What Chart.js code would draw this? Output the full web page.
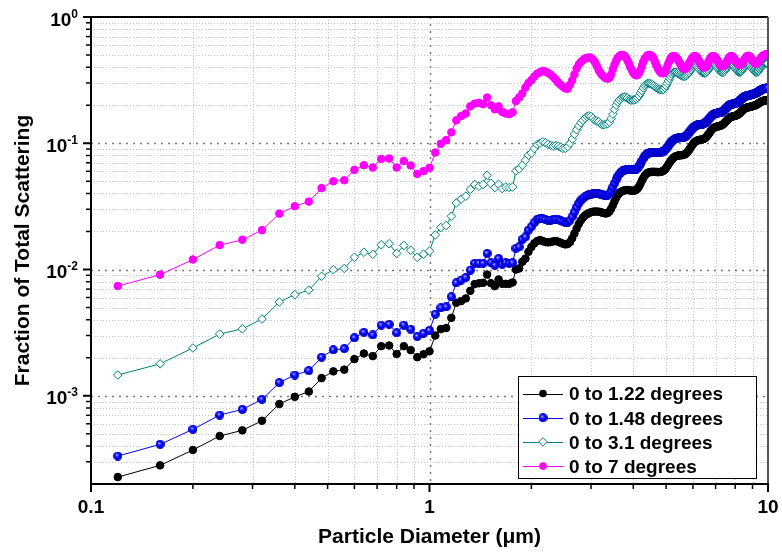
<!DOCTYPE html>
<html lang="en">
<head>
  <meta charset="UTF-8">
  <title>Fraction of Total Scattering</title>
  <script src="https://cdn.jsdelivr.net/npm/chart.js"></script>
  <style>
    html, body { margin: 0; padding: 0; background: #fff; }
    #wrap { width: 782px; height: 554px; }
  </style>
</head>
<body>
  <div id="wrap"><canvas id="chart" width="782" height="554"></canvas></div>

  <script>
    // particle diameters (um), one row = 10 points
    const diameter = [
      0.12,0.16,0.20,0.24,0.28,0.32,0.36,0.40,0.44,0.48,
      0.52,0.56,0.60,0.64,0.68,0.72,0.76,0.80,0.84,0.88,
      0.92,0.96,1.00,1.04,1.08,1.12,1.16,1.20,1.24,1.28,
      1.32,1.36,1.40,1.44,1.48,1.52,1.56,1.60,1.64,1.68,
      1.72,1.76,1.80,1.84,1.88,1.92,1.96,2.00,2.04,2.08,
      2.12,2.16,2.20,2.24,2.28,2.32,2.36,2.40,2.44,2.48,
      2.52,2.56,2.60,2.64,2.68,2.72,2.76,2.80,2.84,2.88,
      2.92,2.96,3.00,3.04,3.08,3.12,3.16,3.20,3.24,3.28,
      3.32,3.36,3.40,3.44,3.48,3.52,3.56,3.60,3.64,3.68,
      3.72,3.76,3.80,3.84,3.88,3.92,3.96,4.00,4.04,4.08,
      4.12,4.16,4.20,4.24,4.28,4.32,4.36,4.40,4.44,4.48,
      4.52,4.56,4.60,4.64,4.68,4.72,4.76,4.80,4.84,4.88,
      4.92,4.96,5.00,5.04,5.08,5.12,5.16,5.20,5.24,5.28,
      5.32,5.36,5.40,5.44,5.48,5.52,5.56,5.60,5.64,5.68,
      5.72,5.76,5.80,5.84,5.88,5.92,5.96,6.00,6.04,6.08,
      6.12,6.16,6.20,6.24,6.28,6.32,6.36,6.40,6.44,6.48,
      6.52,6.56,6.60,6.64,6.68,6.72,6.76,6.80,6.84,6.88,
      6.92,6.96,7.00,7.04,7.08,7.12,7.16,7.20,7.24,7.28,
      7.32,7.36,7.40,7.44,7.48,7.52,7.56,7.60,7.64,7.68,
      7.72,7.76,7.80,7.84,7.88,7.92,7.96,8.00,8.04,8.08,
      8.12,8.16,8.20,8.24,8.28,8.32,8.36,8.40,8.44,8.48,
      8.52,8.56,8.60,8.64,8.68,8.72,8.76,8.80,8.84,8.88,
      8.92,8.96,9.00,9.04,9.08,9.12,9.16,9.20,9.24,9.28,
      9.32,9.36,9.40,9.44,9.48,9.52,9.56,9.60,9.64,9.68,
      9.72,9.76,9.80,9.84,9.88,9.92,9.96,10.00
    ];

    // 0 to 1.22 degrees
    const frac122 = [
      0.000227,0.000281,0.000372,0.000480,0.000532,0.000634,0.000860,0.000980,0.00108,0.00138,
      0.00156,0.00161,0.00195,0.00216,0.00206,0.00247,0.00250,0.00214,0.00247,0.00230,
      0.00202,0.00213,0.00225,0.00300,0.00337,0.00344,0.00414,0.00545,0.00562,0.00590,
      0.00678,0.00766,0.00778,0.00784,0.00913,0.00778,0.00738,0.00834,0.00770,0.00770,
      0.00770,0.00790,0.0100,0.0102,0.0115,0.0122,0.0138,0.0151,0.0161,0.0168,
      0.0171,0.0168,0.0165,0.0164,0.0165,0.0167,0.0168,0.0166,0.0163,0.0160,
      0.0158,0.0159,0.0165,0.0177,0.0193,0.0211,0.0229,0.0245,0.0258,0.0268,
      0.0275,0.0280,0.0284,0.0287,0.0288,0.0288,0.0287,0.0285,0.0282,0.0279,
      0.0278,0.0280,0.0288,0.0303,0.0323,0.0346,0.0370,0.0390,0.0404,0.0413,
      0.0419,0.0423,0.0425,0.0426,0.0425,0.0423,0.0421,0.0420,0.0422,0.0428,
      0.0438,0.0455,0.0478,0.0505,0.0530,0.0552,0.0568,0.0580,0.0587,0.0591,
      0.0593,0.0594,0.0594,0.0593,0.0592,0.0591,0.0591,0.0592,0.0595,0.0600,
      0.0608,0.0620,0.0637,0.0657,0.0680,0.0703,0.0725,0.0745,0.0762,0.0775,
      0.0785,0.0792,0.0797,0.0800,0.0802,0.0803,0.0804,0.0806,0.0810,0.0817,
      0.0827,0.0842,0.0860,0.0882,0.0906,0.0932,0.0958,0.0983,0.1005,0.1023,
      0.1037,0.1047,0.1054,0.1059,0.1063,0.1066,0.1069,0.1073,0.1079,0.1088,
      0.1100,0.1116,0.1136,0.1160,0.1186,0.1213,0.1240,0.1266,0.1289,0.1309,
      0.1325,0.1337,0.1346,0.1352,0.1357,0.1361,0.1365,0.1370,0.1377,0.1386,
      0.1397,0.1411,0.1428,0.1448,0.1470,0.1494,0.1518,0.1542,0.1564,0.1584,
      0.1600,0.1612,0.1621,0.1628,0.1633,0.1638,0.1643,0.1649,0.1656,0.1665,
      0.1676,0.1690,0.1706,0.1725,0.1746,0.1769,0.1793,0.1817,0.1840,0.1861,
      0.1879,0.1894,0.1905,0.1913,0.1919,0.1924,0.1929,0.1934,0.1940,0.1947,
      0.1953,0.1960,0.1967,0.1974,0.1981,0.1988,0.1996,0.2005,0.2016,0.2029,
      0.2044,0.2060,0.2077,0.2094,0.2110,0.2125,0.2138,0.2150,0.2160,0.2168,
      0.2175,0.2180,0.2184,0.2187,0.2190,0.2193,0.2196,0.2200
    ];

    // 0 to 1.48 degrees
    const frac148 = [
      0.000333,0.000412,0.000542,0.000703,0.000780,0.000936,0.00127,0.00146,0.00158,0.00202,
      0.00231,0.00236,0.00288,0.00318,0.00303,0.00362,0.00368,0.00315,0.00363,0.00337,
      0.00295,0.00312,0.00329,0.00443,0.00497,0.00506,0.00608,0.00784,0.00824,0.00865,
      0.00988,0.0112,0.0112,0.0112,0.0134,0.0113,0.0108,0.0122,0.0110,0.0113,
      0.0112,0.0113,0.0147,0.0151,0.0173,0.0181,0.0205,0.0218,0.0235,0.0249,
      0.0253,0.0252,0.0249,0.0246,0.0246,0.0248,0.0249,0.0247,0.0243,0.0239,
      0.0236,0.0237,0.0245,0.0262,0.0285,0.0310,0.0333,0.0352,0.0366,0.0377,
      0.0385,0.0391,0.0396,0.0399,0.0400,0.0400,0.0399,0.0396,0.0392,0.0388,
      0.0386,0.0388,0.0398,0.0418,0.0447,0.0481,0.0515,0.0546,0.0571,0.0590,
      0.0603,0.0611,0.0616,0.0618,0.0618,0.0617,0.0615,0.0614,0.0616,0.0623,
      0.0637,0.0659,0.0688,0.0722,0.0756,0.0785,0.0808,0.0825,0.0836,0.0843,
      0.0847,0.0849,0.0850,0.0850,0.0849,0.0848,0.0848,0.0849,0.0852,0.0858,
      0.0868,0.0883,0.0903,0.0928,0.0955,0.0983,0.1010,0.1035,0.1056,0.1072,
      0.1084,0.1093,0.1099,0.1103,0.1106,0.1108,0.1110,0.1113,0.1118,0.1126,
      0.1138,0.1155,0.1177,0.1203,0.1232,0.1262,0.1292,0.1320,0.1344,0.1363,
      0.1377,0.1388,0.1395,0.1400,0.1404,0.1408,0.1412,0.1417,0.1424,0.1434,
      0.1448,0.1467,0.1490,0.1517,0.1547,0.1578,0.1609,0.1638,0.1663,0.1684,
      0.1700,0.1712,0.1721,0.1728,0.1734,0.1739,0.1744,0.1750,0.1758,0.1768,
      0.1781,0.1797,0.1817,0.1840,0.1866,0.1893,0.1921,0.1948,0.1973,0.1995,
      0.2013,0.2027,0.2037,0.2045,0.2052,0.2058,0.2064,0.2071,0.2079,0.2090,
      0.2103,0.2120,0.2140,0.2163,0.2189,0.2216,0.2244,0.2271,0.2296,0.2318,
      0.2337,0.2353,0.2365,0.2374,0.2381,0.2387,0.2393,0.2399,0.2406,0.2414,
      0.2423,0.2432,0.2441,0.2450,0.2459,0.2468,0.2478,0.2489,0.2502,0.2518,
      0.2536,0.2556,0.2577,0.2598,0.2618,0.2637,0.2654,0.2669,0.2682,0.2693,
      0.2702,0.2710,0.2717,0.2723,0.2729,0.2735,0.2741,0.2747
    ];

    // 0 to 3.1 degrees
    const frac31 = [
      0.00146,0.00179,0.00239,0.00308,0.00339,0.00405,0.00553,0.00632,0.00687,0.00883,
      0.00996,0.0102,0.0125,0.0137,0.0132,0.0157,0.0160,0.0134,0.0155,0.0142,
      0.0125,0.0132,0.0140,0.0188,0.0215,0.0223,0.0264,0.0337,0.0361,0.0381,
      0.0431,0.0471,0.0457,0.0471,0.0558,0.0480,0.0446,0.0474,0.0438,0.0450,
      0.0446,0.0450,0.0604,0.0627,0.0670,0.0734,0.0804,0.0838,0.0908,0.0977,
      0.100,0.103,0.101,0.098,0.096,0.095,0.096,0.095,0.093,0.091,
      0.091,0.094,0.100,0.108,0.118,0.128,0.137,0.145,0.152,0.158,
      0.163,0.165,0.163,0.158,0.152,0.150,0.148,0.143,0.140,0.140,
      0.142,0.143,0.147,0.157,0.170,0.185,0.200,0.212,0.220,0.227,
      0.231,0.233,0.232,0.228,0.223,0.220,0.220,0.220,0.221,0.224,
      0.230,0.238,0.249,0.262,0.275,0.286,0.293,0.297,0.298,0.297,
      0.294,0.290,0.285,0.280,0.275,0.271,0.268,0.266,0.265,0.266,
      0.268,0.275,0.285,0.298,0.312,0.326,0.340,0.352,0.360,0.365,
      0.366,0.364,0.360,0.355,0.350,0.346,0.342,0.340,0.339,0.340,
      0.342,0.347,0.354,0.362,0.372,0.382,0.392,0.400,0.406,0.410,
      0.410,0.407,0.400,0.392,0.384,0.376,0.369,0.364,0.361,0.360,
      0.361,0.364,0.370,0.378,0.388,0.398,0.408,0.416,0.422,0.425,
      0.425,0.422,0.416,0.408,0.399,0.390,0.382,0.375,0.370,0.367,
      0.365,0.365,0.367,0.372,0.379,0.388,0.398,0.408,0.417,0.424,
      0.428,0.430,0.430,0.427,0.421,0.413,0.404,0.395,0.387,0.379,
      0.373,0.368,0.366,0.365,0.366,0.369,0.374,0.381,0.389,0.398,
      0.406,0.414,0.421,0.426,0.429,0.430,0.429,0.426,0.420,0.413,
      0.405,0.397,0.389,0.382,0.376,0.371,0.368,0.366,0.365,0.366,
      0.369,0.373,0.379,0.386,0.393,0.400,0.407,0.413,0.418,0.422,
      0.425,0.427,0.429,0.430,0.430,0.430,0.429,0.428
    ];

    // 0 to 7 degrees
    const frac7 = [
      0.0074,0.0091,0.0120,0.0156,0.0172,0.0205,0.0277,0.0317,0.0345,0.0441,
      0.0500,0.0509,0.0615,0.0670,0.0642,0.0752,0.0757,0.0642,0.0724,0.0666,
      0.0572,0.0601,0.0638,0.0844,0.0990,0.106,0.122,0.152,0.164,0.172,
      0.196,0.206,0.209,0.204,0.230,0.200,0.186,0.196,0.177,0.172,
      0.170,0.176,0.216,0.230,0.248,0.276,0.300,0.316,0.338,0.356,
      0.365,0.374,0.370,0.360,0.350,0.335,0.320,0.302,0.290,0.280,
      0.272,0.270,0.290,0.315,0.350,0.390,0.420,0.440,0.455,0.470,
      0.475,0.478,0.475,0.460,0.440,0.410,0.380,0.360,0.345,0.335,
      0.327,0.325,0.330,0.350,0.385,0.420,0.450,0.475,0.490,0.500,
      0.500,0.495,0.480,0.455,0.430,0.400,0.380,0.360,0.350,0.345,
      0.348,0.360,0.380,0.410,0.440,0.465,0.480,0.495,0.500,0.500,
      0.495,0.485,0.465,0.440,0.415,0.395,0.380,0.368,0.360,0.358,
      0.360,0.370,0.385,0.405,0.430,0.450,0.470,0.483,0.490,0.490,
      0.487,0.478,0.465,0.450,0.435,0.420,0.405,0.395,0.390,0.388,
      0.390,0.397,0.410,0.425,0.440,0.455,0.470,0.480,0.488,0.490,
      0.488,0.480,0.470,0.455,0.440,0.425,0.413,0.405,0.400,0.398,
      0.400,0.405,0.415,0.430,0.445,0.460,0.472,0.482,0.488,0.490,
      0.490,0.485,0.477,0.467,0.455,0.443,0.432,0.422,0.415,0.410,
      0.408,0.408,0.410,0.415,0.423,0.433,0.445,0.457,0.468,0.478,
      0.485,0.490,0.490,0.488,0.483,0.475,0.466,0.456,0.446,0.437,
      0.430,0.424,0.420,0.418,0.418,0.420,0.425,0.432,0.440,0.450,
      0.460,0.470,0.478,0.485,0.490,0.492,0.492,0.490,0.485,0.478,
      0.470,0.462,0.453,0.445,0.438,0.433,0.430,0.428,0.428,0.430,
      0.433,0.438,0.445,0.453,0.462,0.470,0.478,0.485,0.490,0.495,
      0.498,0.500,0.502,0.505,0.507,0.508,0.508,0.508
    ];

    const seriesLabels = ['0 to 1.22 degrees', '0 to 1.48 degrees', '0 to 3.1 degrees', '0 to 7 degrees'];

    // axis ticks
    const xMajor = [0.1, 1, 10];
    const xTickLabels = ['0.1', '1', '10'];
    const yMajor = [1, 0.1, 0.01, 0.001];
    const yExponents = ['0', '-1', '-2', '-3'];
    const minorSteps = [2, 3, 4, 5, 6, 7, 8, 9];
    const xMinor = [0.1, 1].flatMap(d => minorSteps.map(m => m * d));
    const yMinor = [1e-4, 1e-3, 1e-2, 1e-1].flatMap(d => minorSteps.map(m => m * d)).filter(v => v > 2.01e-4);

    const FONT = '"Liberation Sans", Arial, sans-serif';

    // shaded ball marker for the blue series
    function makeBall(r) {
      const c = document.createElement('canvas');
      c.width = c.height = r * 2;
      const g = c.getContext('2d');
      const grad = g.createRadialGradient(r * 0.75, r * 0.7, 0.1, r, r, r);
      grad.addColorStop(0, '#e8e8ff');
      grad.addColorStop(0.22, '#5050ff');
      grad.addColorStop(0.55, '#0000ff');
      grad.addColorStop(1, '#0000b4');
      g.fillStyle = grad;
      g.beginPath();
      g.arc(r, r, r, 0, Math.PI * 2);
      g.fill();
      return c;
    }
    const ball = makeBall(4.5);

    const styles = [
      { color: '#000000', style: 'circle', radius: 3.8, fill: '#000000' },
      { color: '#0000ff', style: ball, radius: 4.5, fill: '#0000ff' },
      { color: '#008080', style: 'rectRot', radius: 4.3, fill: '#ffffff' },
      { color: '#ff00ff', style: 'circle', radius: 3.8, fill: '#ff00ff' }
    ];

    const values = [frac122, frac148, frac31, frac7];

    const datasets = values.map((vals, i) => ({
      label: seriesLabels[i],
      data: diameter.map((d, k) => ({ x: d, y: vals[k] })),
      borderColor: styles[i].color,
      borderWidth: 1,
      pointStyle: styles[i].style,
      pointRadius: styles[i].radius,
      pointBackgroundColor: styles[i].fill,
      pointBorderColor: styles[i].color,
      pointBorderWidth: 1,
      order: 3 - i
    }));

    function drawMarker(ctx, s, x, y) {
      ctx.save();
      if (typeof s.style !== 'string') {
        ctx.drawImage(s.style, x - s.style.width / 2, y - s.style.height / 2);
      } else if (s.style === 'rectRot') {
        ctx.beginPath();
        ctx.moveTo(x, y - s.radius);
        ctx.lineTo(x + s.radius, y);
        ctx.lineTo(x, y + s.radius);
        ctx.lineTo(x - s.radius, y);
        ctx.closePath();
        ctx.fillStyle = s.fill; ctx.fill();
        ctx.strokeStyle = s.color; ctx.lineWidth = 1; ctx.stroke();
      } else {
        ctx.beginPath();
        ctx.arc(x, y, s.radius, 0, Math.PI * 2);
        ctx.fillStyle = s.fill; ctx.fill();
      }
      ctx.restore();
    }

    const frame = {
      id: 'frame',
      beforeDatasetsDraw(chart) {
        const { ctx, chartArea: a, scales: { x, y } } = chart;
        ctx.save();
        const vline = v => { const p = Math.round(x.getPixelForValue(v)) + 0.5; ctx.beginPath(); ctx.moveTo(p, a.top); ctx.lineTo(p, a.bottom); ctx.stroke(); };
        const hline = v => { const p = Math.round(y.getPixelForValue(v)) + 0.5; ctx.beginPath(); ctx.moveTo(a.left, p); ctx.lineTo(a.right, p); ctx.stroke(); };
        // minor grid
        ctx.strokeStyle = '#c4c4c4';
        ctx.lineWidth = 1;
        ctx.setLineDash([1, 2]);
        xMinor.forEach(vline);
        yMinor.forEach(hline);
        // major grid
        ctx.strokeStyle = '#7a7a7a';
        ctx.lineWidth = 1.5;
        ctx.setLineDash([2, 5]);
        vline(1);
        yMajor.filter(v => v < 1).forEach(hline);
        ctx.restore();
      },
      afterDatasetsDraw(chart) {
        const { ctx, chartArea: a, scales: { x, y } } = chart;
        ctx.save();
        ctx.setLineDash([]);

        // frame
        ctx.strokeStyle = '#000';
        ctx.lineWidth = 2;
        ctx.beginPath();
        ctx.moveTo(a.left, a.top); ctx.lineTo(a.right, a.top);
        ctx.stroke();
        ctx.strokeStyle = '#555';
        ctx.beginPath();
        ctx.moveTo(a.right, a.top); ctx.lineTo(a.right, a.bottom);
        ctx.stroke();
        ctx.strokeStyle = '#000';
        ctx.beginPath();
        ctx.moveTo(a.left, a.top - 1); ctx.lineTo(a.left, a.bottom + 1);
        ctx.moveTo(a.left - 1, a.bottom); ctx.lineTo(a.right + 1, a.bottom);
        ctx.stroke();

        // tick marks
        const tick = (isX, v, len, w) => {
          ctx.lineWidth = w;
          ctx.beginPath();
          if (isX) {
            const p = x.getPixelForValue(v);
            ctx.moveTo(p, a.bottom); ctx.lineTo(p, a.bottom + len);
          } else {
            const p = y.getPixelForValue(v);
            ctx.moveTo(a.left, p); ctx.lineTo(a.left - len, p);
          }
          ctx.stroke();
        };
        xMajor.forEach(v => tick(true, v, 8, 2));
        xMinor.forEach(v => tick(true, v, 5, 1.5));
        yMajor.forEach(v => tick(false, v, 8, 2));
        yMinor.forEach(v => tick(false, v, 5, 1.5));

        // tick labels
        ctx.fillStyle = '#000';
        ctx.font = 'bold 19px ' + FONT;
        ctx.textAlign = 'center';
        ctx.textBaseline = 'alphabetic';
        xMajor.forEach((v, i) => ctx.fillText(xTickLabels[i], x.getPixelForValue(v), 513));

        ctx.textAlign = 'right';
        yMajor.forEach((v, i) => {
          const p = y.getPixelForValue(v);
          ctx.font = 'bold 12px ' + FONT;
          ctx.fillText(yExponents[i], 78, p + 0.5);
          const ew = ctx.measureText(yExponents[i]).width;
          ctx.font = 'bold 19px ' + FONT;
          ctx.fillText('10', 78 - ew, p + 8.7);
        });

        // axis titles
        ctx.font = 'bold 21px ' + FONT;
        ctx.textAlign = 'center';
        ctx.fillText('Particle Diameter (\u03bcm)', (a.left + a.right) / 2, 543);
        ctx.save();
        ctx.translate(29, (a.top + a.bottom) / 2);
        ctx.rotate(-Math.PI / 2);
        ctx.fillText('Fraction of Total Scattering', 0, 0);
        ctx.restore();

        // legend box
        const lx = 518.5, ly = 376.5, lw = 238, lh = 102;
        ctx.fillStyle = '#fff';
        ctx.fillRect(lx, ly, lw, lh);
        ctx.strokeStyle = '#000';
        ctx.lineWidth = 1;
        ctx.strokeRect(lx, ly, lw, lh);
        seriesLabels.forEach((label, i) => {
          const ry = 393.5 + i * 24.2;
          const s = styles[i];
          ctx.strokeStyle = s.color;
          ctx.lineWidth = 1;
          ctx.beginPath();
          ctx.moveTo(523, Math.round(ry) + 0.5); ctx.lineTo(563, Math.round(ry) + 0.5);
          ctx.stroke();
          drawMarker(ctx, s, 543, ry);
          ctx.fillStyle = '#000';
          ctx.font = 'bold 19px ' + FONT;
          ctx.textAlign = 'left';
          ctx.fillText(label, 569, ry + 6.8);
        });
        ctx.restore();
      }
    };

    new Chart(document.getElementById('chart'), {
      type: 'line',
      data: { datasets },
      options: {
        responsive: false,
        devicePixelRatio: 1,
        animation: false,
        layout: { padding: { left: 0, right: 14, top: 17, bottom: 0 } },
        plugins: { legend: { display: false }, tooltip: { enabled: false } },
        elements: { line: { tension: 0 } },
        scales: {
          x: {
            type: 'logarithmic', min: 0.1, max: 10,
            ticks: { display: false },
            grid: { display: false },
            border: { display: false },
            afterFit: s => { s.height = 70; }
          },
          y: {
            type: 'logarithmic', min: 2e-4, max: 1,
            ticks: { display: false },
            grid: { display: false },
            border: { display: false },
            afterFit: s => { s.width = 91; }
          }
        }
      },
      plugins: [frame]
    });
  </script>
</body>
</html>
